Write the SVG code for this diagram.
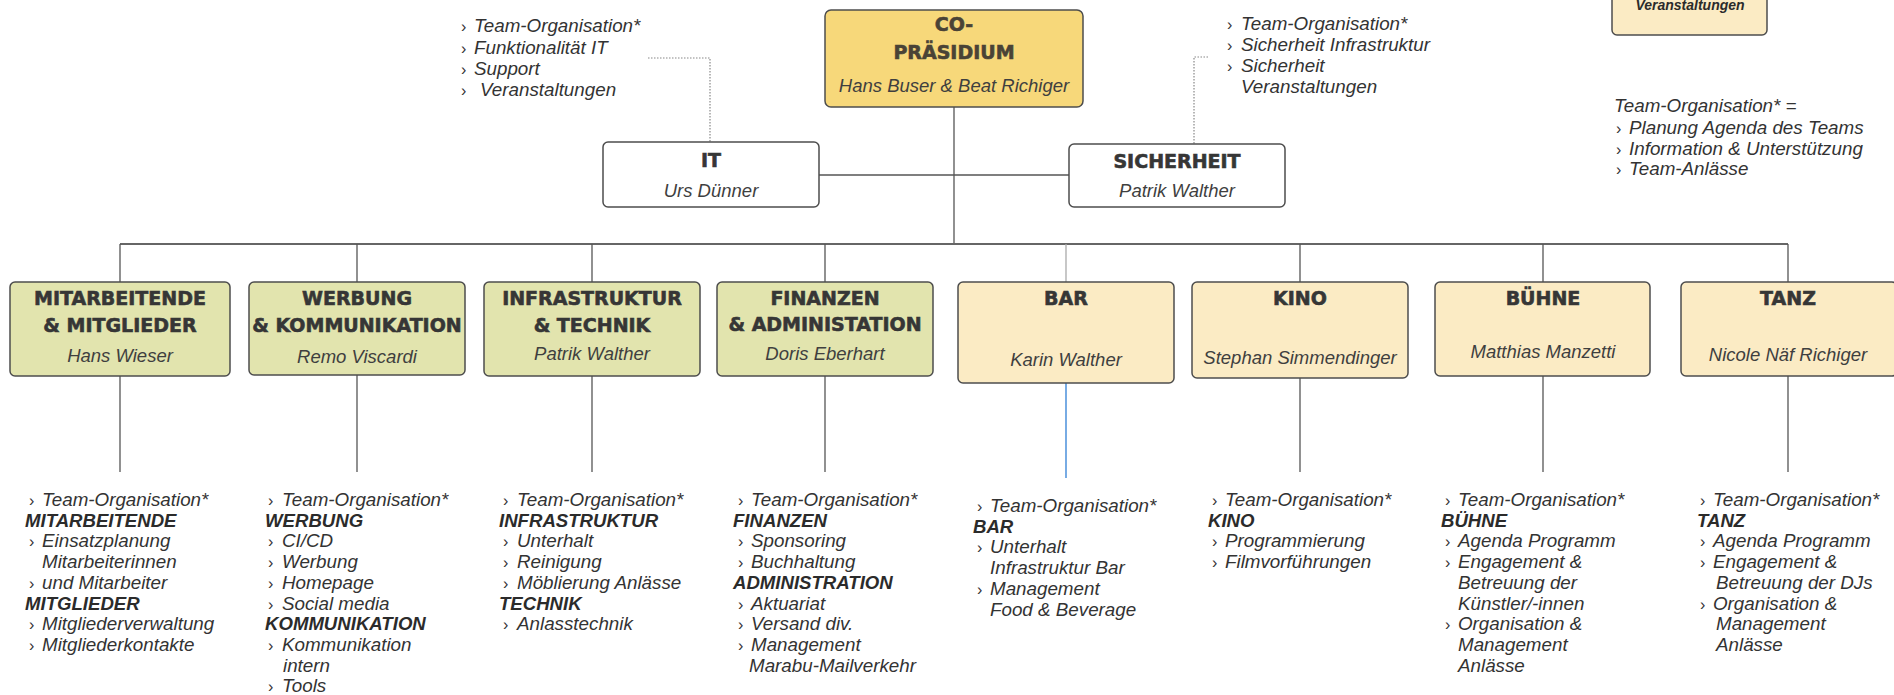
<svg xmlns="http://www.w3.org/2000/svg" width="1894" height="695" viewBox="0 0 1894 695">
<style>
.box{stroke:#4d4d4d;stroke-width:1.5}
.gold{fill:#f7d87a}
.white{fill:#ffffff}
.green{fill:#e2e4ae}
.cream{fill:#fbebc4}
.h{font-family:"DejaVu Sans",sans-serif;font-weight:bold;font-size:19px;fill:#363636;stroke:#363636;stroke-width:0.6;text-anchor:middle}
.n{font-family:"Liberation Sans",Arial,sans-serif;font-style:italic;font-size:18.5px;fill:#3f3f3f;text-anchor:middle}
.t{font-family:"Liberation Sans",Arial,sans-serif;font-style:italic;font-size:18.8px;fill:#333}
.b{font-family:"Liberation Sans",Arial,sans-serif;font-style:italic;font-weight:bold;font-size:18.6px;fill:#2b2b2b}
.ch{font-style:normal;font-size:16px}
.line{stroke:#555;stroke-width:1.3;fill:none}
.bus{stroke:#666;stroke-width:2;fill:none}
.dot{stroke:#888;stroke-width:1.2;stroke-dasharray:1.5 1.5;fill:none}
.blue{stroke:#2f7fd6;stroke-width:1.3;fill:none}
</style>
<rect width="1894" height="695" fill="#ffffff"/>

<g id="connectors">
<line class="line" x1="954" y1="107" x2="954" y2="244"/>
<line class="line" x1="819" y1="175" x2="1069" y2="175"/>
<line class="bus" x1="120" y1="244" x2="1788" y2="244"/>
<line class="line" x1="120" y1="244" x2="120" y2="282"/>
<line class="line" x1="357" y1="244" x2="357" y2="282"/>
<line class="line" x1="592" y1="244" x2="592" y2="282"/>
<line class="line" x1="825" y1="244" x2="825" y2="282"/>
<line class="line" x1="1066" y1="244" x2="1066" y2="282" style="stroke:#aaa"/>
<line class="line" x1="1300" y1="244" x2="1300" y2="282"/>
<line class="line" x1="1543" y1="244" x2="1543" y2="282"/>
<line class="line" x1="1788" y1="244" x2="1788" y2="282"/>
<line class="line" x1="120" y1="376" x2="120" y2="472"/>
<line class="line" x1="357" y1="375" x2="357" y2="472"/>
<line class="line" x1="592" y1="376" x2="592" y2="472"/>
<line class="line" x1="825" y1="376" x2="825" y2="472"/>
<line class="blue" x1="1066" y1="383" x2="1066" y2="478"/>
<line class="line" x1="1300" y1="378" x2="1300" y2="472"/>
<line class="line" x1="1543" y1="376" x2="1543" y2="472"/>
<line class="line" x1="1788" y1="376" x2="1788" y2="472"/>
<polyline class="dot" points="648,58 710,58 710,142"/>
<polyline class="dot" points="1208,57 1194,57 1194,144"/>
</g>

<g id="co-praesidium">
<rect class="box gold" x="825" y="10" width="258" height="97" rx="6"/>
<text class="h" x="954" y="31" style="fill:#4a4336;stroke:#4a4336">CO-</text>
<text class="h" x="954" y="59" style="fill:#4a4336;stroke:#4a4336">PRÄSIDIUM</text>
<text class="n" x="954" y="92">Hans Buser &amp; Beat Richiger</text>
</g>

<g id="it">
<rect class="box white" x="603" y="142" width="216" height="65" rx="5"/>
<text class="h" x="711" y="167">IT</text>
<text class="n" x="711" y="197">Urs Dünner</text>
</g>

<g id="sicherheit">
<rect class="box white" x="1069" y="144" width="216" height="63" rx="5"/>
<text class="h" x="1177" y="168">SICHERHEIT</text>
<text class="n" x="1177" y="197">Patrik Walther</text>
</g>

<g id="it-aufgaben">
<text class="t" y="32"><tspan class="ch" x="461">›</tspan><tspan x="474">Team-Organisation*</tspan></text>
<text class="t" y="54"><tspan class="ch" x="461">›</tspan><tspan x="474">Funktionalität IT</tspan></text>
<text class="t" y="75"><tspan class="ch" x="461">›</tspan><tspan x="474">Support</tspan></text>
<text class="t" y="96"><tspan class="ch" x="461">›</tspan><tspan x="480">Veranstaltungen</tspan></text>
</g>

<g id="sicherheit-aufgaben">
<text class="t" y="30"><tspan class="ch" x="1227">›</tspan><tspan x="1241">Team-Organisation*</tspan></text>
<text class="t" y="51"><tspan class="ch" x="1227">›</tspan><tspan x="1241">Sicherheit Infrastruktur</tspan></text>
<text class="t" y="72"><tspan class="ch" x="1227">›</tspan><tspan x="1241">Sicherheit</tspan></text>
<text class="t" x="1241" y="93">Veranstaltungen</text>
</g>

<g id="veranstaltungen">
<rect class="box cream" x="1612" y="-20" width="155" height="55" rx="5"/>
<text class="b" x="1690" y="10" style="font-size:14px;text-anchor:middle">Veranstaltungen</text>
</g>

<g id="legende">
<text class="t" x="1614" y="112">Team-Organisation* =</text>
<text class="t" y="134"><tspan class="ch" x="1616">›</tspan><tspan x="1629">Planung Agenda des Teams</tspan></text>
<text class="t" y="155"><tspan class="ch" x="1616">›</tspan><tspan x="1629">Information &amp; Unterstützung</tspan></text>
<text class="t" y="175"><tspan class="ch" x="1616">›</tspan><tspan x="1629">Team-Anlässe</tspan></text>
</g>

<g id="mitarbeitende">
<rect class="box green" x="10" y="282" width="220" height="94" rx="5"/>
<text class="h" x="120" y="305">MITARBEITENDE</text>
<text class="h" x="120" y="332">&amp; MITGLIEDER</text>
<text class="n" x="120" y="362">Hans Wieser</text>
<text class="t" y="506"><tspan class="ch" x="29">›</tspan><tspan x="42">Team-Organisation*</tspan></text>
<text class="b" x="25" y="527">MITARBEITENDE</text>
<text class="t" y="547"><tspan class="ch" x="29">›</tspan><tspan x="42">Einsatzplanung</tspan></text>
<text class="t" x="42" y="568">Mitarbeiterinnen</text>
<text class="t" y="589"><tspan class="ch" x="29">›</tspan><tspan x="42">und Mitarbeiter</tspan></text>
<text class="b" x="25" y="610">MITGLIEDER</text>
<text class="t" y="630"><tspan class="ch" x="29">›</tspan><tspan x="42">Mitgliederverwaltung</tspan></text>
<text class="t" y="651"><tspan class="ch" x="29">›</tspan><tspan x="42">Mitgliederkontakte</tspan></text>
</g>

<g id="werbung">
<rect class="box green" x="249" y="282" width="216" height="93" rx="5"/>
<text class="h" x="357" y="305">WERBUNG</text>
<text class="h" x="357" y="332">&amp; KOMMUNIKATION</text>
<text class="n" x="357" y="363">Remo Viscardi</text>
<text class="t" y="506"><tspan class="ch" x="268">›</tspan><tspan x="282">Team-Organisation*</tspan></text>
<text class="b" x="265" y="527">WERBUNG</text>
<text class="t" y="547"><tspan class="ch" x="268">›</tspan><tspan x="282">CI/CD</tspan></text>
<text class="t" y="568"><tspan class="ch" x="268">›</tspan><tspan x="282">Werbung</tspan></text>
<text class="t" y="589"><tspan class="ch" x="268">›</tspan><tspan x="282">Homepage</tspan></text>
<text class="t" y="610"><tspan class="ch" x="268">›</tspan><tspan x="282">Social media</tspan></text>
<text class="b" x="265" y="630">KOMMUNIKATION</text>
<text class="t" y="651"><tspan class="ch" x="268">›</tspan><tspan x="282">Kommunikation</tspan></text>
<text class="t" x="283" y="672">intern</text>
<text class="t" y="692"><tspan class="ch" x="268">›</tspan><tspan x="282">Tools</tspan></text>
</g>

<g id="infrastruktur">
<rect class="box green" x="484" y="282" width="216" height="94" rx="5"/>
<text class="h" x="592" y="305">INFRASTRUKTUR</text>
<text class="h" x="592" y="332">&amp; TECHNIK</text>
<text class="n" x="592" y="360">Patrik Walther</text>
<text class="t" y="506"><tspan class="ch" x="503">›</tspan><tspan x="517">Team-Organisation*</tspan></text>
<text class="b" x="499" y="527">INFRASTRUKTUR</text>
<text class="t" y="547"><tspan class="ch" x="503">›</tspan><tspan x="517">Unterhalt</tspan></text>
<text class="t" y="568"><tspan class="ch" x="503">›</tspan><tspan x="517">Reinigung</tspan></text>
<text class="t" y="589"><tspan class="ch" x="503">›</tspan><tspan x="517">Möblierung Anlässe</tspan></text>
<text class="b" x="499" y="610">TECHNIK</text>
<text class="t" y="630"><tspan class="ch" x="503">›</tspan><tspan x="517">Anlasstechnik</tspan></text>
</g>

<g id="finanzen">
<rect class="box green" x="717" y="282" width="216" height="94" rx="5"/>
<text class="h" x="825" y="305">FINANZEN</text>
<text class="h" x="825" y="331">&amp; ADMINISTATION</text>
<text class="n" x="825" y="360">Doris Eberhart</text>
<text class="t" y="506"><tspan class="ch" x="738">›</tspan><tspan x="751">Team-Organisation*</tspan></text>
<text class="b" x="733" y="527">FINANZEN</text>
<text class="t" y="547"><tspan class="ch" x="738">›</tspan><tspan x="751">Sponsoring</tspan></text>
<text class="t" y="568"><tspan class="ch" x="738">›</tspan><tspan x="751">Buchhaltung</tspan></text>
<text class="b" x="733" y="589">ADMINISTRATION</text>
<text class="t" y="610"><tspan class="ch" x="738">›</tspan><tspan x="751">Aktuariat</tspan></text>
<text class="t" y="630"><tspan class="ch" x="738">›</tspan><tspan x="751">Versand div.</tspan></text>
<text class="t" y="651"><tspan class="ch" x="738">›</tspan><tspan x="751">Management</tspan></text>
<text class="t" x="749" y="672">Marabu-Mailverkehr</text>
</g>

<g id="bar">
<rect class="box cream" x="958" y="282" width="216" height="101" rx="5"/>
<text class="h" x="1066" y="305">BAR</text>
<text class="n" x="1066" y="366">Karin Walther</text>
<text class="t" y="512"><tspan class="ch" x="977">›</tspan><tspan x="990">Team-Organisation*</tspan></text>
<text class="b" x="973" y="533">BAR</text>
<text class="t" y="553"><tspan class="ch" x="977">›</tspan><tspan x="990">Unterhalt</tspan></text>
<text class="t" x="990" y="574">Infrastruktur Bar</text>
<text class="t" y="595"><tspan class="ch" x="977">›</tspan><tspan x="990">Management</tspan></text>
<text class="t" x="990" y="616">Food &amp; Beverage</text>
</g>

<g id="kino">
<rect class="box cream" x="1192" y="282" width="216" height="96" rx="5"/>
<text class="h" x="1300" y="305">KINO</text>
<text class="n" x="1300" y="364">Stephan Simmendinger</text>
<text class="t" y="506"><tspan class="ch" x="1212">›</tspan><tspan x="1225">Team-Organisation*</tspan></text>
<text class="b" x="1208" y="527">KINO</text>
<text class="t" y="547"><tspan class="ch" x="1212">›</tspan><tspan x="1225">Programmierung</tspan></text>
<text class="t" y="568"><tspan class="ch" x="1212">›</tspan><tspan x="1225">Filmvorführungen</tspan></text>
</g>

<g id="buehne">
<rect class="box cream" x="1435" y="282" width="215" height="94" rx="5"/>
<text class="h" x="1543" y="305">BÜHNE</text>
<text class="n" x="1543" y="358">Matthias Manzetti</text>
<text class="t" y="506"><tspan class="ch" x="1445">›</tspan><tspan x="1458">Team-Organisation*</tspan></text>
<text class="b" x="1441" y="527">BÜHNE</text>
<text class="t" y="547"><tspan class="ch" x="1445">›</tspan><tspan x="1458">Agenda Programm</tspan></text>
<text class="t" y="568"><tspan class="ch" x="1445">›</tspan><tspan x="1458">Engagement &amp;</tspan></text>
<text class="t" x="1458" y="589">Betreuung der</text>
<text class="t" x="1458" y="610">Künstler/-innen</text>
<text class="t" y="630"><tspan class="ch" x="1445">›</tspan><tspan x="1458">Organisation &amp;</tspan></text>
<text class="t" x="1458" y="651">Management</text>
<text class="t" x="1458" y="672">Anlässe</text>
</g>

<g id="tanz">
<rect class="box cream" x="1681" y="282" width="216" height="94" rx="5"/>
<text class="h" x="1788" y="305">TANZ</text>
<text class="n" x="1788" y="361">Nicole Näf Richiger</text>
<text class="t" y="506"><tspan class="ch" x="1700">›</tspan><tspan x="1713">Team-Organisation*</tspan></text>
<text class="b" x="1697" y="527">TANZ</text>
<text class="t" y="547"><tspan class="ch" x="1700">›</tspan><tspan x="1713">Agenda Programm</tspan></text>
<text class="t" y="568"><tspan class="ch" x="1700">›</tspan><tspan x="1713">Engagement &amp;</tspan></text>
<text class="t" x="1716" y="589">Betreuung der DJs</text>
<text class="t" y="610"><tspan class="ch" x="1700">›</tspan><tspan x="1713">Organisation &amp;</tspan></text>
<text class="t" x="1716" y="630">Management</text>
<text class="t" x="1716" y="651">Anlässe</text>
</g>
</svg>
